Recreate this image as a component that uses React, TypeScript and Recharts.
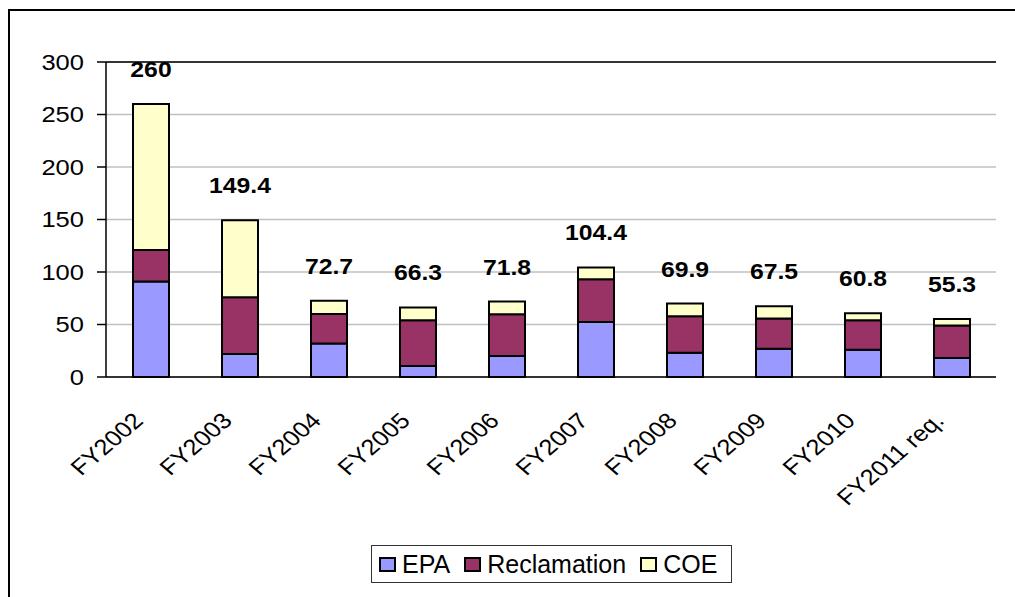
import React from "react";
import {
  BarChart,
  Bar,
  XAxis,
  YAxis,
  CartesianGrid,
  LabelList,
  ReferenceLine,
} from "recharts";

const years = [
  "FY2002",
  "FY2003",
  "FY2004",
  "FY2005",
  "FY2006",
  "FY2007",
  "FY2008",
  "FY2009",
  "FY2010",
  "FY2011 req.",
];
const epa = [91, 22, 32, 10.5, 20, 52.4, 23, 27, 26, 18];
const reclamation = [30, 54, 28, 43.5, 39.7, 40.6, 34.9, 28.6, 28, 31];
const coe = [139, 73.4, 12.7, 12.3, 12.1, 11.4, 12, 11.9, 6.8, 6.3];
const totals = [260, 149.4, 72.7, 66.3, 71.8, 104.4, 69.9, 67.5, 60.8, 55.3];
const yTicks = [0, 50, 100, 150, 200, 250, 300];
const edgeTicks = [0, 1, 2, 3, 4, 5, 6, 7, 8, 9, 10];

const data = years.map((name, i) => ({
  name,
  epa: epa[i],
  reclamation: reclamation[i],
  coe: coe[i],
  total: totals[i],
}));

const FONT = "'Liberation Sans', Arial, sans-serif";
// the source picture is a bit wider than tall, so text is stretched sideways
const SX = 1.16;

const legendItems = [
  { label: "EPA", color: "#9999FF" },
  { label: "Reclamation", color: "#993366" },
  { label: "COE", color: "#FFFFCC" },
];

const RotTick = (props: any) => {
  const { x, y, payload } = props;
  return (
    <g transform={`translate(${x - 6},${y + 45}) scale(${SX},1) rotate(-45)`}>
      <text x={0} y={0} textAnchor="end" fontSize={22} fontFamily={FONT} fill="#000">
        {payload.value}
      </text>
    </g>
  );
};

const YTick = (props: any) => {
  const { x, y, payload } = props;
  return (
    <g transform={`translate(${x},${y}) scale(${SX},1)`}>
      <text x={0} y={0} dy={7.8} textAnchor="end" fontSize={22} fontFamily={FONT} fill="#000">
        {payload.value}
      </text>
    </g>
  );
};

const TotalLabel = (props: any) => {
  const { x, y, width, value } = props;
  return (
    <g transform={`translate(${x + width / 2},${y - 27}) scale(1.1,1)`}>
      <text x={0} y={0} textAnchor="middle" fontSize={22.5} fontWeight="bold" fontFamily={FONT} fill="#000">
        {value}
      </text>
    </g>
  );
};

const LegendBox = () => (
  <div
    style={{
      position: "absolute",
      left: 371,
      top: 545,
      border: "1px solid #333",
      width: 359,
      height: 36,
      display: "flex",
      alignItems: "center",
      background: "#fff",
      fontFamily: FONT,
      fontSize: 25,
      color: "#000",
    }}
  >
    {legendItems.map((it, i) => (
      <div
        key={it.label}
        style={{ display: "flex", alignItems: "center", marginLeft: i === 0 ? 7 : 14 }}
      >
        <span
          style={{
            display: "inline-block",
            width: 13,
            height: 11,
            border: "2px solid #000",
            background: it.color,
            marginRight: 6,
          }}
        />
        <span>{it.label}</span>
      </div>
    ))}
  </div>
);

export default function App() {
  return (
    <div
      style={{
        position: "absolute",
        left: 0,
        top: 0,
        width: 1015,
        height: 597,
        overflow: "hidden",
        background: "#fff",
      }}
    >
      <div
        style={{
          position: "absolute",
          left: 8,
          top: 9,
          width: 1100,
          height: 700,
          borderLeft: "2px solid #000",
          borderTop: "2px solid #000",
        }}
      />
      <div style={{ position: "absolute", left: 0, top: 0 }}>
        <BarChart
          width={1015}
          height={597}
          data={data}
          margin={{ top: 62, right: 19, left: 46, bottom: 100 }}
          barSize={36}
        >
          <CartesianGrid vertical={false} stroke="#C0C0C0" strokeWidth={1.5} />
          <XAxis
            xAxisId="edge"
            type="number"
            domain={[0, 10]}
            ticks={edgeTicks}
            allowDataOverflow
            height={0}
            tick={false}
            axisLine={false}
            tickSize={7}
            tickLine={{ stroke: "#000", strokeWidth: 2 }}
          />
          <XAxis
            dataKey="name"
            height={120}
            interval={0}
            tickLine={false}
            tickSize={0}
            tickMargin={0}
            axisLine={{ stroke: "#000", strokeWidth: 1.5 }}
            tick={<RotTick />}
          />
          <YAxis
            domain={[0, 300]}
            ticks={yTicks}
            width={60}
            tickSize={9}
            tickMargin={13}
            axisLine={{ stroke: "#000", strokeWidth: 1.5 }}
            tickLine={{ stroke: "#000", strokeWidth: 1.5 }}
            tick={<YTick />}
          />
          <ReferenceLine y={300} stroke="#000" strokeWidth={1.5} />
          <ReferenceLine xAxisId="edge" x={10} stroke="#808080" strokeWidth={3} />
          <Bar
            dataKey="epa"
            name="EPA"
            stackId="a"
            fill="#9999FF"
            stroke="#000"
            strokeWidth={2}
            isAnimationActive={false}
          />
          <Bar
            dataKey="reclamation"
            name="Reclamation"
            stackId="a"
            fill="#993366"
            stroke="#000"
            strokeWidth={2}
            isAnimationActive={false}
          />
          <Bar
            dataKey="coe"
            name="COE"
            stackId="a"
            fill="#FFFFCC"
            stroke="#000"
            strokeWidth={2}
            isAnimationActive={false}
          >
            <LabelList dataKey="total" content={<TotalLabel />} />
          </Bar>
        </BarChart>
      </div>
      <LegendBox />
    </div>
  );
}
